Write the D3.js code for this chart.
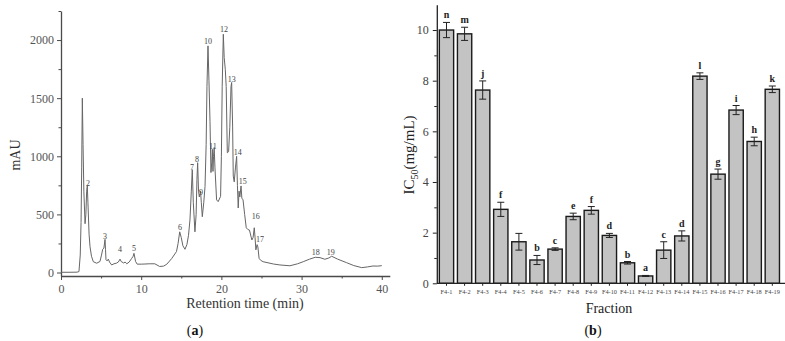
<!DOCTYPE html>
<html>
<head>
<meta charset="utf-8">
<script src="https://cdn.jsdelivr.net/npm/d3@7"></script>
<style>
  html, body { margin: 0; padding: 0; background: #fff; }
  svg { display: block; }
  text { font-family: "Liberation Serif", "DejaVu Serif", serif; }
</style>
</head>
<body>
<svg id="chart" width="785" height="341"></svg>
<script>
// ---------- Panel (a): chromatogram ----------
const retentionTime = [0, 1.0, 2.0, 2.24, 2.4, 2.5, 2.58, 2.66, 2.75, 2.85, 3.0, 3.1, 3.2, 3.28, 3.36, 3.5, 3.62, 3.8, 4.03, 4.45, 4.86, 5.05, 5.2, 5.35, 5.49, 5.55, 5.61, 5.75, 5.9, 6.05, 6.32, 6.6, 6.9, 7.15, 7.36, 7.5, 7.8, 8.0, 8.2, 8.5, 8.8, 9.0, 9.1, 9.3, 9.5, 10.0, 10.47, 11.0, 11.7, 12.3, 12.8, 13.2, 13.8, 14.4, 14.6, 14.8, 15.0, 15.2, 15.46, 15.7, 15.9, 16.08, 16.25, 16.37, 16.5, 16.7, 16.85, 16.95, 17.04, 17.15, 17.25, 17.35, 17.4, 17.5, 17.62, 17.8, 17.96, 18.1, 18.2, 18.33, 18.45, 18.58, 18.7, 18.8, 18.87, 18.95, 19.02, 19.1, 19.2, 19.4, 19.6, 19.9, 20.0, 20.1, 20.24, 20.35, 20.49, 20.6, 20.74, 20.9, 21.05, 21.2, 21.28, 21.4, 21.48, 21.6, 21.75, 21.9, 22.0, 22.1, 22.2, 22.3, 22.45, 22.55, 22.7, 22.9, 23.1, 23.3, 23.5, 23.8, 23.95, 24.1, 24.2, 24.3, 24.45, 24.55, 24.7, 24.9, 25.2, 26.5, 27.3, 28.55, 29.5, 30.2, 31.0, 31.7, 32.3, 32.9, 33.4, 33.75, 34.5, 35.6, 36.5, 37.5, 38.2, 38.9, 39.5, 40.0];
const absorbance = [2, 2, 3, 8, 150, 430, 900, 1500, 1100, 700, 420, 500, 700, 745, 600, 330, 222, 140, 93, 80, 95, 150, 200, 210, 285, 200, 110, 100, 115, 90, 65, 75, 80, 90, 115, 95, 82, 90, 75, 90, 120, 140, 165, 95, 72, 72, 73, 75, 75, 52, 55, 72, 120, 180, 250, 350, 300, 230, 200, 240, 320, 452, 700, 885, 600, 350, 500, 800, 945, 700, 650, 680, 700, 600, 480, 600, 740, 1100, 1600, 1950, 1650, 1300, 860, 950, 1060, 870, 1000, 1075, 900, 625, 610, 655, 1000, 1600, 2050, 1850, 1745, 1600, 1030, 1040, 1250, 1600, 1635, 1260, 830, 780, 900, 1000, 750, 555, 700, 650, 745, 640, 625, 500, 385, 370, 365, 280, 300, 385, 300, 195, 240, 220, 122, 105, 93, 73, 65, 58, 75, 93, 115, 131, 128, 114, 125, 140, 115, 85, 60, 42, 48, 56, 55, 59];
const peakLabels = ["2","3","4","5","6","7","8","9","10","11","12","13","14","15","16","17","18","19"];
const peakLabelT = [3.37, 5.49, 7.36, 9.1, 14.84, 16.33, 16.96, 17.46, 18.33, 18.95, 20.32, 21.28, 22.03, 22.65, 24.3, 24.8, 31.76, 33.63];
const peakLabelV = [771, 315, 203, 211, 392, 909, 978, 694, 1987, 1084, 2090, 1665, 1036, 783, 481, 289, 171, 174];
const aXTicks = [0, 10, 20, 30, 40];
const aYTicks = [0, 500, 1000, 1500, 2000];

// ---------- Panel (b): IC50 bars ----------
const fractions = ["F4-1","F4-2","F4-3","F4-4","F4-5","F4-6","F4-7","F4-8","F4-9","F4-10","F4-11","F4-12","F4-13","F4-14","F4-15","F4-16","F4-17","F4-18","F4-19"];
const ic50 = [10.0, 9.85, 7.63, 2.92, 1.64, 0.92, 1.35, 2.64, 2.88, 1.89, 0.81, 0.29, 1.31, 1.87, 8.18, 4.31, 6.84, 5.60, 7.66];
const ic50Err = [0.30, 0.26, 0.36, 0.28, 0.33, 0.18, 0.05, 0.13, 0.15, 0.08, 0.05, 0.02, 0.33, 0.20, 0.13, 0.20, 0.18, 0.17, 0.13];
const sigLetters = ["n","m","j","f","","b","c","e","f","d","b","a","c","d","l","g","i","h","k"];
const bYTicks = [0, 2, 4, 6, 8, 10];

const svg = d3.select("#chart");

// ===== Panel (a) =====
const ax = d3.scaleLinear().domain([0, 41]).range([61, 389.8]);
const ay = d3.scaleLinear().domain([-30, 2250]).range([276, 11]);
const gA = svg.append("g");
const aColor = "#4a4a4a";

// minor ticks
gA.append("g").attr("transform", "translate(0,276)")
  .call(d3.axisBottom(ax).tickValues([5, 15, 25, 35]).tickSize(2.5).tickFormat(""))
  .call(g => g.select(".domain").remove())
  .selectAll("line").attr("stroke", aColor);
gA.append("g").attr("transform", "translate(61,0)")
  .call(d3.axisLeft(ay).tickValues([250, 750, 1250, 1750, 2250]).tickSize(2.5).tickFormat(""))
  .call(g => g.select(".domain").remove())
  .selectAll("line").attr("stroke", aColor);

const axA = gA.append("g").attr("transform", "translate(0,276)")
  .call(d3.axisBottom(ax).tickValues(aXTicks).tickFormat(d3.format("d")).tickSize(4).tickSizeOuter(0).tickPadding(4));
const ayA = gA.append("g").attr("transform", "translate(61,0)")
  .call(d3.axisLeft(ay).tickValues(aYTicks).tickFormat(d3.format("d")).tickSize(4).tickSizeOuter(0).tickPadding(3));
[axA, ayA].forEach(g => {
  g.select(".domain").attr("stroke", aColor).attr("stroke-width", 1.3);
  g.selectAll(".tick line").attr("stroke", aColor);
  g.selectAll("text").attr("font-size", 12).attr("fill", "#555")
    .attr("font-family", "Liberation Serif, serif");
});

const line = d3.line().x((d, i) => ax(retentionTime[i])).y(d => ay(d));
gA.append("path").datum(absorbance)
  .attr("d", line).attr("fill", "none")
  .attr("stroke", "#666").attr("stroke-width", 1)
  .attr("stroke-linejoin", "round");

gA.selectAll("text.peak").data(peakLabels).join("text")
  .attr("class", "peak")
  .attr("x", (d, i) => ax(peakLabelT[i]))
  .attr("y", (d, i) => ay(peakLabelV[i]))
  .attr("dy", "0.35em")
  .attr("text-anchor", "middle")
  .attr("font-size", 8).attr("fill", "#444")
  .text(d => d);

gA.append("text").attr("x", 245).attr("y", 308).attr("text-anchor", "middle")
  .attr("font-size", 14).attr("fill", "#333").text("Retention time (min)");
gA.append("text").attr("transform", "translate(20,155) rotate(-90)")
  .attr("text-anchor", "middle").attr("font-size", 14).attr("fill", "#333").text("mAU");
const la = gA.append("text").attr("x", 195).attr("y", 335).attr("text-anchor", "middle")
  .attr("font-size", 14).attr("fill", "#111");
la.append("tspan").text("(");
la.append("tspan").attr("font-weight", "bold").text("a");
la.append("tspan").text(")");

// ===== Panel (b) =====
const bx = d3.scaleBand().domain(fractions).range([436.8, 782]).paddingInner(0.21).paddingOuter(0.14);
const by = d3.scaleLinear().domain([0, 11]).range([283.3, 4.7]);
const gB = svg.append("g");
const bColor = "#222";

gB.append("g").attr("transform", "translate(436.8,0)")
  .call(d3.axisLeft(by).tickValues([1, 3, 5, 7, 9]).tickSize(2.5).tickFormat(""))
  .call(g => g.select(".domain").remove())
  .selectAll("line").attr("stroke", bColor);

gB.selectAll("rect.bar").data(fractions).join("rect")
  .attr("class", "bar")
  .attr("x", d => bx(d))
  .attr("y", (d, i) => by(ic50[i]))
  .attr("width", bx.bandwidth())
  .attr("height", (d, i) => by(0) - by(ic50[i]))
  .attr("fill", "#c3c3c3").attr("stroke", "#1a1a1a").attr("stroke-width", 1.4);

const eg = gB.append("g").attr("stroke", "#222").attr("stroke-width", 1);
fractions.forEach((f, i) => {
  const cx = bx(f) + bx.bandwidth() / 2;
  const y1 = by(ic50[i] + ic50Err[i]), y2 = by(ic50[i] - ic50Err[i]);
  eg.append("line").attr("x1", cx).attr("x2", cx).attr("y1", y1).attr("y2", y2);
  eg.append("line").attr("x1", cx - 3.5).attr("x2", cx + 3.5).attr("y1", y1).attr("y2", y1);
  eg.append("line").attr("x1", cx - 3.5).attr("x2", cx + 3.5).attr("y1", y2).attr("y2", y2);
});

gB.selectAll("text.sig").data(fractions).join("text")
  .attr("class", "sig")
  .attr("x", d => bx(d) + bx.bandwidth() / 2)
  .attr("y", (d, i) => by(ic50[i] + ic50Err[i]) - 4)
  .attr("text-anchor", "middle").attr("font-size", 10).attr("font-weight", "bold")
  .attr("fill", "#222")
  .text((d, i) => sigLetters[i]);

const bxA = gB.append("g").attr("transform", "translate(0,283.3)")
  .call(d3.axisBottom(bx).tickSize(2.5).tickSizeOuter(0).tickPadding(4));
bxA.select(".domain").attr("d", "M436.8,0H785");
const byA = gB.append("g").attr("transform", "translate(436.8,0)")
  .call(d3.axisLeft(by).tickValues(bYTicks).tickSize(4).tickSizeOuter(0).tickPadding(4));
[bxA, byA].forEach(g => {
  g.select(".domain").attr("stroke", bColor).attr("stroke-width", 1.3);
  g.selectAll(".tick line").attr("stroke", bColor);
  g.selectAll("text").attr("fill", "#444").attr("font-family", "Liberation Serif, serif");
});
bxA.selectAll("text").attr("font-size", 6.3);
byA.selectAll("text").attr("font-size", 12);

gB.append("text").attr("x", 609).attr("y", 313).attr("text-anchor", "middle")
  .attr("font-size", 14).attr("fill", "#222").text("Fraction");
const yl = gB.append("text").attr("transform", "translate(414,155) rotate(-90)")
  .attr("text-anchor", "middle").attr("font-size", 15).attr("fill", "#222");
yl.append("tspan").text("IC");
yl.append("tspan").attr("font-size", 10).attr("dy", 4).text("50");
yl.append("tspan").attr("dy", -4).text("(mg/mL)");
const lb = gB.append("text").attr("x", 593).attr("y", 335).attr("text-anchor", "middle")
  .attr("font-size", 14).attr("fill", "#111");
lb.append("tspan").text("(");
lb.append("tspan").attr("font-weight", "bold").text("b");
lb.append("tspan").text(")");
</script>
</body>
</html>
